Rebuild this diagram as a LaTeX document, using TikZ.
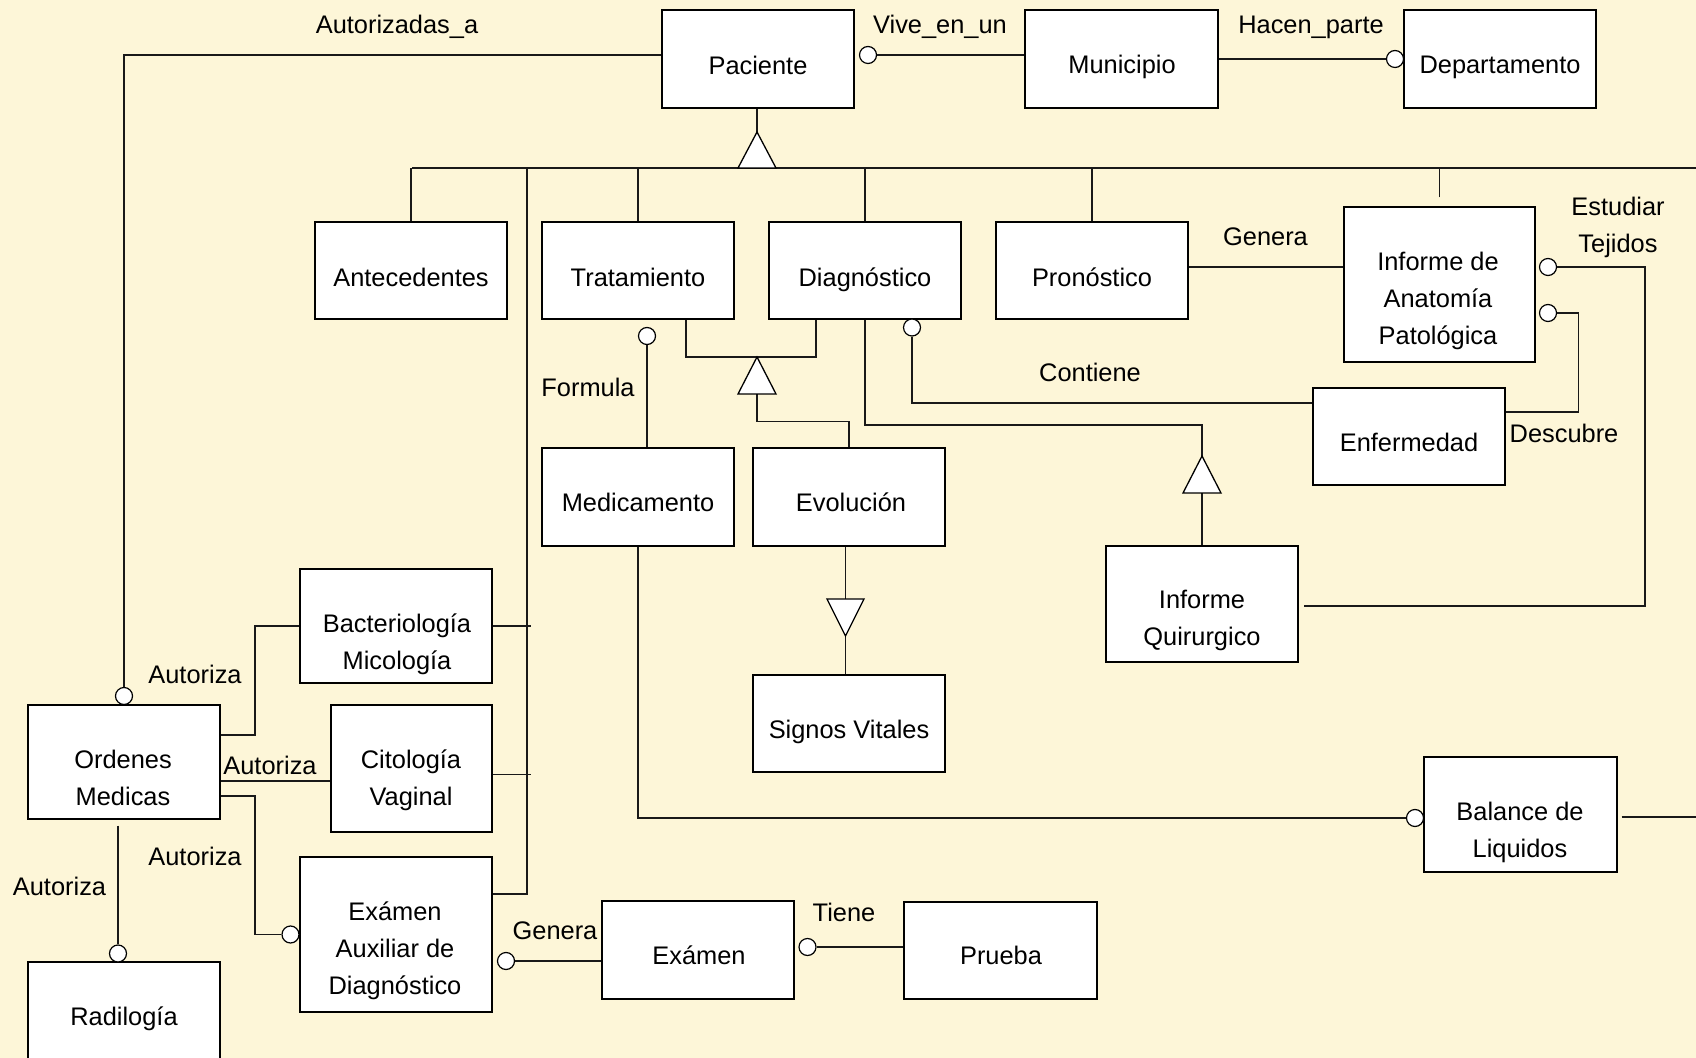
\documentclass[tikz,border=0pt]{standalone}
\usepackage{fontspec}
\setmainfont{Liberation Sans}
\usetikzlibrary{calc}
\definecolor{paper}{RGB}{253,246,216}
\begin{document}
\begin{tikzpicture}[x=0.5pt,y=-0.5pt,
  ent/.style={draw=black, fill=white, line width=0.7pt, inner sep=0pt},
  lbl/.style={font=\fontsize{12.7}{18.5}\selectfont, inner sep=0pt, text height=9.1pt, text depth=0pt},
  mlbl/.style={font=\fontsize{12.7}{18.5}\selectfont, inner sep=0pt, align=center},
  opt/.style={circle, draw=black, fill=white, line width=0.6pt, minimum size=8.5pt, inner sep=0pt},
  ln/.style={draw=black!90, line width=0.65pt},
  gen/.style={draw=black, fill=white, line width=0.65pt, line join=miter}]

\useasboundingbox (0,0) rectangle (1696,1058);
\fill[paper] (0,0) rectangle (1696,1058);

% ---------- entities ----------
\node[ent, minimum width=96pt,   minimum height=49pt]   (pac) at (758,59)      {};
\node[ent, minimum width=96.5pt, minimum height=49pt]   (mun) at (1121.5,59)   {};
\node[ent, minimum width=96pt,   minimum height=49pt]   (dep) at (1500,59)     {};
\node[ent, minimum width=96pt,   minimum height=48.5pt] (ant) at (411,270.5)   {};
\node[ent, minimum width=96pt,   minimum height=48.5pt] (tra) at (638,270.5)   {};
\node[ent, minimum width=96pt,   minimum height=48.5pt] (dia) at (865,270.5)   {};
\node[ent, minimum width=96pt,   minimum height=48.5pt] (pro) at (1092,270.5)  {};
\node[ent, minimum width=95.5pt, minimum height=77.5pt] (iap) at (1439.5,284.5){};
\node[ent, minimum width=96pt,   minimum height=49pt]   (med) at (638,497)     {};
\node[ent, minimum width=96pt,   minimum height=49pt]   (evo) at (849,497)     {};
\node[ent, minimum width=96pt,   minimum height=48.5pt] (enf) at (1409,436.5)  {};
\node[ent, minimum width=96pt,   minimum height=58pt]   (iqu) at (1202,604)    {};
\node[ent, minimum width=96pt,   minimum height=48.5pt] (sig) at (849,723.5)   {};
\node[ent, minimum width=96pt,   minimum height=57pt]   (bac) at (396,626)     {};
\node[ent, minimum width=96pt,   minimum height=57pt]   (ord) at (124,762)     {};
\node[ent, minimum width=80.5pt, minimum height=63.5pt] (cit) at (411.5,768.5) {};
\node[ent, minimum width=96pt,   minimum height=77.5pt] (eax) at (396,934.5)   {};
\node[ent, minimum width=96pt,   minimum height=49pt]   (exa) at (698,950)     {};
\node[ent, minimum width=96.5pt, minimum height=48.5pt] (pru) at (1000.5,950.5){};
\node[ent, minimum width=96.5pt, minimum height=57.5pt] (bal) at (1520.5,814.5){};
\node[ent, minimum width=96pt,   minimum height=54pt]   (rad) at (124,1016)    {};

% entity names
\node[lbl]  (pac-t) at (758,65)     {Paciente};
\node[lbl]  (mun-t) at (1122,64)    {Municipio};
\node[lbl]  (dep-t) at (1500,64)    {Departamento};
\node[lbl]  (ant-t) at (411,277)    {Antecedentes};
\node[lbl]  (tra-t) at (638,277)    {Tratamiento};
\node[lbl]  (dia-t) at (865,277)    {Diagnóstico};
\node[lbl]  (pro-t) at (1092,277)   {Pronóstico};
\node[mlbl] (iap-t) at (1438,300.5) {Informe de\\Anatomía\\Patológica};
\node[lbl]  (med-t) at (638,502)    {Medicamento};
\node[lbl]  (evo-t) at (851,502)    {Evolución};
\node[lbl]  (enf-t) at (1409,442)   {Enfermedad};
\node[mlbl] (iqu-t) at (1202,620.5) {Informe\\Quirurgico};
\node[lbl]  (sig-t) at (849,729)    {Signos Vitales};
\node[mlbl] (bac-t) at (397,644)    {Bacteriología\\Micología};
\node[mlbl] (ord-t) at (123,778)    {Ordenes\\Medicas};
\node[mlbl] (cit-t) at (411,780.5)  {Citología\\Vaginal};
\node[mlbl] (eax-t) at (395,950.5)  {Exámen\\Auxiliar de\\Diagnóstico};
\node[lbl]  (exa-t) at (699,955)    {Exámen};
\node[lbl]  (pru-t) at (1001,955)   {Prueba};
\node[mlbl] (bal-t) at (1520,832.5) {Balance de\\Liquidos};
\node[lbl]  (rad-t) at (124,1016)   {Radilogía};

% relationship names
\node[lbl]  (r-aut)  at (397,24)    {Autorizadas\_a};
\node[lbl]  (r-viv)  at (940,24)    {Vive\_en\_un};
\node[lbl]  (r-hac)  at (1311,24)   {Hacen\_parte};
\node[lbl]  (r-gen1) at (1265.5,236){Genera};
\node[mlbl] (r-est)  at (1618,227)  {Estudiar\\Tejidos};
\node[lbl]  (r-con)  at (1090,372)  {Contiene};
\node[lbl]  (r-des)  at (1564,433)  {Descubre};
\node[lbl]  (r-for)  at (588,387)   {Formula};
\node[lbl]  (r-au1)  at (195,674)   {Autoriza};
\node[lbl]  (r-au2)  at (270,765)   {Autoriza};
\node[lbl]  (r-au3)  at (195,856)   {Autoriza};
\node[lbl]  (r-au4)  at (59.5,886)  {Autoriza};
\node[lbl]  (r-gen2) at (555,930)   {Genera};
\node[lbl]  (r-tie)  at (844,912)   {Tiene};

% ---------- optional-participation circles ----------
\node[opt] (c-aut) at (124,696)    {};
\node[opt] (c-viv) at (868,55)     {};
\node[opt] (c-hac) at (1395,59)    {};
\node[opt] (c-for) at (647,336)    {};
\node[opt] (c-con) at (912,327.5)  {};
\node[opt] (c-est) at (1548,267)   {};
\node[opt] (c-des) at (1548,313)   {};
\node[opt] (c-liq) at (1415,818)   {};
\node[opt] (c-aux) at (290.5,934.5){};
\node[opt] (c-rad) at (118,953.5)  {};
\node[opt] (c-gen) at (506,961)    {};
\node[opt] (c-tie) at (807.5,947)  {};

% ---------- junction points ----------
\coordinate (busL) at (412,168);
\coordinate (busR) at (1696,168);
\coordinate (busA) at (527,168);
\coordinate (jA)   at (527,894);
\coordinate (stub) at (531,0);
\coordinate (jO)   at (255,0);
\coordinate (estR) at (1645,0);
\coordinate (balR) at (1696,817);
\coordinate (t1a)  at (757,132);
\coordinate (t2a)  at (757,357);
\coordinate (t2b)  at (757,394);
\coordinate (t3b)  at (845.5,599);
\coordinate (t3a)  at (845.5,636);
\coordinate (t4a)  at (1202,456);
\coordinate (t4b)  at (1202,493);
\coordinate (brL)  at (686,357);
\coordinate (brR)  at (816,357);
\coordinate (iqP)  at ([xshift=2.5pt,yshift=-1pt]iqu.east);

% ---------- relationships ----------
\draw[ln] ([yshift=2pt]pac.west) -| (c-aut.north);
\draw[ln] (c-viv.east) -- (c-viv.east -| mun.west);
\draw[ln] (mun.east) -- (c-hac.west);
\draw[ln] ([yshift=1.75pt]pro.east) -- ([yshift=1.75pt]pro.east -| iap.west);
\draw[ln] (c-for.south) -- (c-for.south |- med.north);
\draw[ln] (c-con.south) |- ([yshift=16.75pt]enf.west);
\draw[ln] (c-est.east) -| (estR |- iqP) -- (iqP);
\draw[ln] (c-des.east) -| ([xshift=36.5pt,yshift=12.25pt]enf.east) -- ([yshift=12.25pt]enf.east);
\draw[ln] (med.south) |- (c-liq.west);
\draw[ln] ([xshift=2pt]bal.east |- balR) -- (balR);
\draw[ln] ([yshift=13.5pt]ord.east) -| (jO |- bac.west) -- (bac.west);
\draw[ln] ([yshift=-9.5pt]ord.east) -- ([yshift=-9.5pt]ord.east -| cit.west);
\draw[ln] ([yshift=-17pt]ord.east) -| (jO |- c-aux) -- (c-aux.west);
\draw[ln] ([xshift=-3pt,yshift=-3pt]ord.south) -- (c-rad.north);
\draw[ln] (c-gen.east) -- (c-gen.east -| exa.west);
\draw[ln] (c-tie.east) -- (c-tie.east -| pru.west);

% ---------- Paciente hierarchy ----------
\draw[ln] (pac.south -| t1a) -- (t1a);
\draw[ln] (busL) -- (busR);
\draw[ln] (ant.north) -- (ant.north |- busL);
\draw[ln] (tra.north) -- (tra.north |- busL);
\draw[ln] (dia.north) -- (dia.north |- busL);
\draw[ln] (pro.north) -- (pro.north |- busL);
\draw[ln] ([yshift=4.5pt]iap.north) -- (iap.north |- busL);
\draw[ln] (busA) -- (jA) -- (jA -| eax.east);
\draw[ln] (bac.east) -- (bac.east -| stub);
\draw[ln] ([yshift=-3pt]cit.east) -- ([yshift=-3pt]cit.east -| stub);
\filldraw[gen] (t1a) -- ++(19,36) -- ++(-38,0) -- cycle;

% Tratamiento / Diagnostico -> Evolucion
\draw[ln] (tra.south -| brL) -- (brL) -- (brR) -- (dia.south -| brR);
\draw[ln] (t2b) |- ([yshift=13pt]evo.north) -- (evo.north);
\filldraw[gen] (t2a) -- ++(19,37) -- ++(-38,0) -- cycle;

% Evolucion -> Signos Vitales
\draw[ln] ([xshift=-1.75pt]evo.south) -- (t3b);
\draw[ln] (t3a) -- (t3a |- sig.north);
\filldraw[gen] (t3a) -- ++(18.5,-37) -- ++(-37,0) -- cycle;

% Diagnostico -> Informe Quirurgico
\draw[ln] (dia.south) |- ([yshift=15.5pt]t4a) -- (t4a);
\draw[ln] (t4b) -- (iqu.north);
\filldraw[gen] (t4a) -- ++(19,37) -- ++(-38,0) -- cycle;

\end{tikzpicture}
\end{document}
